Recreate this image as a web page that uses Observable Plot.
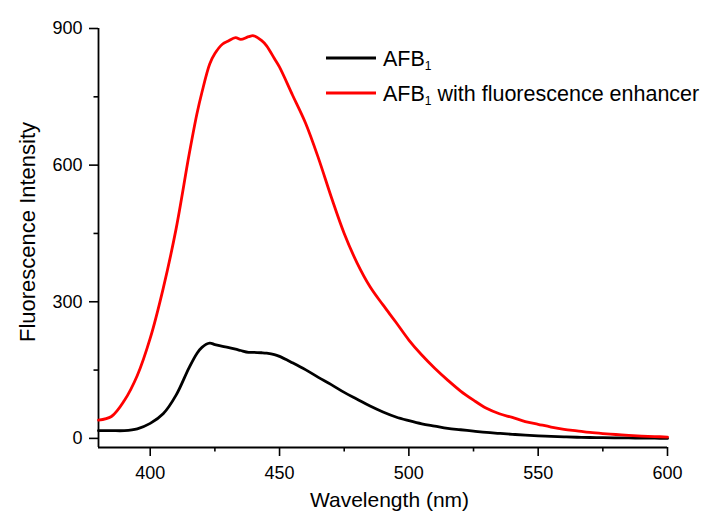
<!DOCTYPE html>
<html>
<head>
<meta charset="utf-8">
<script src="https://cdn.jsdelivr.net/npm/d3@7"></script>
<script src="https://cdn.jsdelivr.net/npm/@observablehq/plot@0.6"></script>
<style>
  html, body { margin: 0; padding: 0; background: #fff; }
  #chart { width: 719px; height: 514px; }
  svg { font-family: "Liberation Sans", Arial, sans-serif; }
</style>
</head>
<body>
<div id="chart"></div>
<script>
// Wavelength (nm)
const wavelength = [380,385,390,395,400,405,410,415,418,420,423,425,428,430,433,435,438,440,443,445,448,450,
  455,460,465,470,475,480,485,490,495,500,505,510,515,520,525,530,535,540,545,550,555,560,565,570,575,580,585,590,595,600];
// AFB1 (black)
const afb1 = [17,17,17,21,33,54,95,155,186,200,209,206,202,200,196,193,189,189,188,187,184,180,
  166,151,134,118,101,86,71,58,47,39,32,27,22,19,16,13,11,9,7,5.5,4.5,3.5,2.5,2,1.5,1,1,0.5,0.5,0];
// AFB1 with fluorescence enhancer (red)
const afb1Enhanced = [40,48,83,138,220,329,460,622,711,760,822,845,866,872,880,876,882,884,874,862,834,815,
  754,693,616,530,450,385,333,293,255,216,183,154,128,104,84,66,54,46,37,31,25,20,16.5,13,10.5,8.5,6.5,5,4,3];
// Tick values
const xMajorTicks = [400,450,500,550,600];
const xMinorTicks = [425,475,525,575];
const yMajorTicks = [0,300,600,900];
const yMinorTicks = [150,450,750];
const seriesNames = ["AFB1", "AFB1 with fluorescence enhancer"];
const seriesColors = ["#000000", "#ff0000"];

const rows = [];
wavelength.forEach((w, i) => {
  rows.push({wavelength: w, intensity: afb1[i], series: seriesNames[0]});
  rows.push({wavelength: w, intensity: afb1Enhanced[i], series: seriesNames[1]});
});

const chart = Plot.plot({
  width: 719,
  height: 514,
  marginLeft: 98,
  marginRight: 52,
  marginTop: 28,
  marginBottom: 67,
  style: {fontFamily: "Liberation Sans, Arial, sans-serif", fontSize: "18px", color: "#000", background: "#fff", overflow: "visible"},
  x: {domain: [380, 600]},
  y: {domain: [-20, 900]},
  color: {domain: seriesNames, range: seriesColors},
  marks: [
    Plot.axisX({ticks: xMajorTicks, tickSize: 9, tickPadding: 10, tickFormat: d => d, label: null, strokeWidth: 1.6, fontSize: 18}),
    Plot.axisX({ticks: xMinorTicks, tickSize: 4.5, text: null, label: null, strokeWidth: 1.6}),
    Plot.axisY({ticks: yMajorTicks, tickSize: 9, tickPadding: 7, tickFormat: d => d, label: null, strokeWidth: 1.6, fontSize: 18}),
    Plot.axisY({ticks: yMinorTicks, tickSize: 4.5, text: null, label: null, strokeWidth: 1.6}),
    Plot.ruleY([-20], {stroke: "#000", strokeWidth: 1.8}),
    Plot.ruleX([380], {stroke: "#000", strokeWidth: 1.8}),
    Plot.line(rows, {x: "wavelength", y: "intensity", z: "series", stroke: "series", strokeWidth: 2.8, curve: "catmull-rom"}),
    Plot.text(["Wavelength (nm)"], {frameAnchor: "bottom", text: d => d, dx: 6.5, dy: 52.5, lineAnchor: "middle", textAnchor: "middle", fontSize: 21}),
    Plot.text(["Fluorescence Intensity"], {frameAnchor: "left", text: d => d, rotate: -90, dx: -71, dy: -6, lineAnchor: "middle", textAnchor: "middle", fontSize: 22})
  ]
});

document.getElementById("chart").appendChild(chart);

// Legend drawn inside the SVG
const svg = d3.select(chart);
const legend = svg.append("g").attr("font-family", "Liberation Sans, Arial, sans-serif").attr("text-anchor", "start");
const legendRows = [
  {name: "AFB", sub: "1", rest: "", color: seriesColors[0], y: 58},
  {name: "AFB", sub: "1", rest: " with fluorescence enhancer", color: seriesColors[1], y: 93}
];
legendRows.forEach(r => {
  legend.append("line").attr("x1", 326).attr("x2", 376).attr("y1", r.y).attr("y2", r.y)
    .attr("stroke", r.color).attr("stroke-width", 3);
  const t = legend.append("text").attr("x", 383).attr("y", r.y + 8).attr("font-size", 21.5).attr("fill", "#000");
  t.append("tspan").text(r.name);
  t.append("tspan").attr("font-size", 12).attr("dy", 4).text(r.sub);
  if (r.rest) t.append("tspan").attr("dy", -4).text(r.rest);
});
</script>
</body>
</html>
